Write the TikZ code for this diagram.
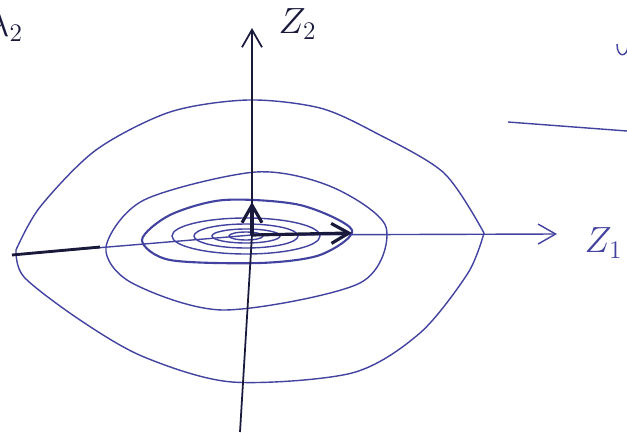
\documentclass[tikz,border=0pt]{standalone}
\usetikzlibrary{arrows.meta}
\definecolor{ink}{RGB}{66,66,160}
\definecolor{darkink}{RGB}{25,25,60}
\begin{document}
\begin{tikzpicture}[x=0.02cm,y=-0.02cm,font=\huge,>={Straight Barb[length=3.5mm,width=4mm]},ink,line width=0.8pt]
\useasboundingbox (0,0) rectangle (627,433);
\coordinate (O) at (252,235);
\coordinate (xl) at (12,255);
\coordinate (xr) at (557,234);
\coordinate (yb) at (240,432);
\coordinate (yt) at (252,28);
\coordinate (e1) at (352,233);
\coordinate (e2) at (252,202);
\coordinate (xk) at (100,247);
\draw plot[smooth] coordinates {(16,250) (40,207) (96,150) (170,112) (248,100) (320,108) (376,133) (444,173) (484,233)};
\draw plot[smooth] coordinates {(484,233) (468,273) (420,333) (352,373) (232,382) (144,357) (80,320) (24,277) (16,250)};
\draw plot[smooth cycle] coordinates {(106,247) (144,200) (256,172) (332,187) (386,227) (360,283) (224,310) (132,283)};
\draw[line width=1.2pt] plot[smooth cycle] coordinates {(142,240) (170,215) (224,200) (300,205) (352,230) (320,255) (260,263) (170,260)};
\foreach \rx/\ry in {74/18,52/12,34/7,17/4}
  \draw (246,236) ellipse ({\rx} and {\ry});
\draw[->] (xl) -- (O) -- (xr);
\draw[->,darkink,line width=1pt] (yb) -- (O) -- (yt);
\draw[darkink,line width=1.6pt] (xl) -- (xk);
\draw[darkink,line width=1.8pt,->] (O) -- (e1);
\draw[darkink,line width=1.8pt,->] (O) -- (e2);
\node[anchor=west,inner sep=0] (z1) at (584,243) {$Z_1$};
\node[anchor=west,inner sep=0,darkink] (z2) at (278,24) {$Z_2$};
\node[anchor=base west,inner sep=0,darkink] (l2) at (-12,36) {$\lambda_2$};
\draw (508,122) -- (627,131);
\draw (617,44) .. controls (617,58) and (627,58) .. (628,46);
\end{tikzpicture}
\end{document}
